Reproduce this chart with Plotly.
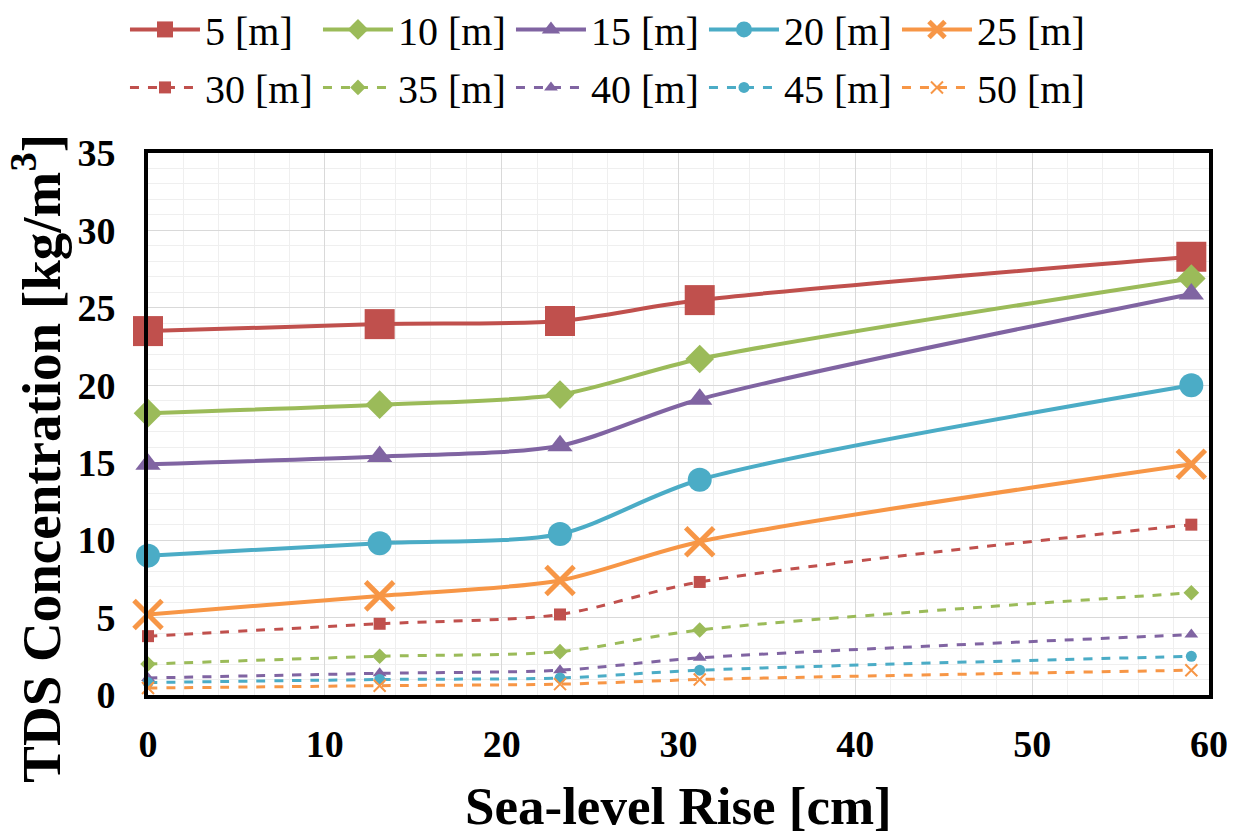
import plotly.graph_objects as go

x_rise = [0, 13.1, 23.3, 31.2, 59]
depth_labels = ["5 [m]", "10 [m]", "15 [m]", "20 [m]", "25 [m]",
                "30 [m]", "35 [m]", "40 [m]", "45 [m]", "50 [m]"]
tds_5 = [23.5, 23.95, 24.15, 25.5, 28.3]
tds_10 = [18.2, 18.75, 19.4, 21.7, 26.9]
tds_15 = [14.9, 15.4, 16.1, 19.1, 25.9]
tds_20 = [9.0, 9.8, 10.4, 13.9, 20.0]
tds_25 = [5.2, 6.4, 7.4, 9.9, 14.9]
tds_30 = [3.8, 4.6, 5.2, 7.3, 11.0]
tds_35 = [2.0, 2.5, 2.8, 4.2, 6.6]
tds_40 = [1.1, 1.4, 1.6, 2.4, 3.9]
tds_45 = [0.8, 1.0, 1.1, 1.6, 2.5]
tds_50 = [0.45, 0.6, 0.7, 1.0, 1.6]

series = [tds_5, tds_10, tds_15, tds_20, tds_25, tds_30, tds_35, tds_40, tds_45, tds_50]
colors = ["#C0504D", "#9BBB59", "#8064A2", "#4BACC6", "#F79646"] * 2
symbols = ["square", "diamond", "triangle-up", "circle", "x-thin"] * 2
big_sizes = [30, 22, 22, 24, 28]
small_sizes = [12, 12, 12, 11, 12]

fig = go.Figure()
for i, (lab, ys) in enumerate(zip(depth_labels, series)):
    solid = i < 5
    col = colors[i]
    sym = symbols[i]
    size = big_sizes[i % 5] if solid else small_sizes[i % 5]
    mline = dict(width=(5 if solid else 2) if sym == "x-thin" else 0, color=col)
    fig.add_trace(go.Scatter(
        x=x_rise, y=ys, name=lab, mode="lines+markers",
        line=dict(color=col, width=4 if solid else 3, dash="solid" if solid else "dash",
                  shape="spline", smoothing=0.8),
        marker=dict(symbol=sym, size=size, color=col, line=mline),
        cliponaxis=False,
        legend="legend" if solid else "legend2",
    ))

font_fam = "Liberation Serif, Times New Roman, serif"
leg_common = dict(orientation="h", xanchor="left", yanchor="middle",
                  font=dict(family=font_fam, size=40, color="black"),
                  entrywidth=108, entrywidthmode="pixels", itemwidth=70,
                  bgcolor="rgba(0,0,0,0)", tracegroupgap=0, itemclick=False)

# the page body adds an 8px margin, so the figure is 8px smaller on each axis
fig.update_layout(
    width=1227, height=826,
    margin=dict(l=140, r=26, t=145, b=139, autoexpand=False),
    paper_bgcolor="white", plot_bgcolor="white",
    font=dict(family=font_fam, color="black"),
    legend=dict(x=-0.0217, y=1.228, **leg_common),
    legend2=dict(x=-0.0217, y=1.121, **leg_common),
    xaxis=dict(range=[0, 60], dtick=10, tick0=0, showgrid=True, gridcolor="#d9d9d9", gridwidth=1,
               minor=dict(dtick=2, showgrid=True, gridcolor="#efefef", gridwidth=1),
               showline=True, linecolor="black", linewidth=4, mirror=True, zeroline=False,
               ticks="", tickfont=dict(family=font_fam, size=38, color="black", weight="bold"),
               ticklabelstandoff=12),
    yaxis=dict(range=[0, 35], dtick=5, tick0=0, showgrid=True, gridcolor="#d9d9d9", gridwidth=1,
               minor=dict(dtick=1, showgrid=True, gridcolor="#efefef", gridwidth=1),
               showline=True, linecolor="black", linewidth=4, mirror=True, zeroline=False,
               ticks="outside", ticklen=21, tickcolor="rgba(0,0,0,0)",
               tickfont=dict(family=font_fam, size=38, color="black", weight="bold")),
    annotations=[
        dict(text="<b>Sea-level Rise [cm]</b>", xref="paper", yref="paper",
             x=0.5, y=-0.205, xanchor="center", yanchor="middle", showarrow=False,
             font=dict(family=font_fam, size=53, color="black")),
        dict(text="<b>TDS Concentration [kg/m<sup>3</sup>]</b>", xref="paper", yref="paper",
             x=-0.105, y=0.437, xanchor="center", yanchor="middle", showarrow=False, textangle=-90,
             font=dict(family=font_fam, size=55, color="black")),
    ],
)

fig.write_html("out.html")
